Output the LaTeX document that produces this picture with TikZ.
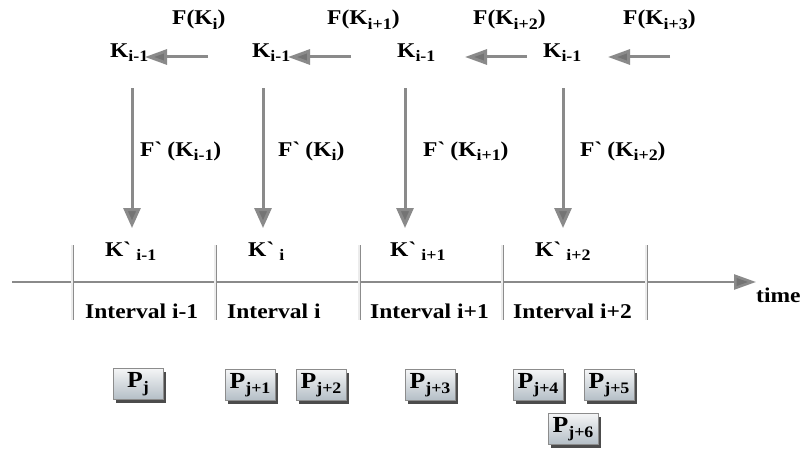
\documentclass[tikz,border=0pt]{standalone}
\usepackage{fontspec}
\setmainfont[FakeStretch=1.12]{Liberation Serif}
\usetikzlibrary{arrows.meta,shadows}
% lowered subscript in bold text
\newcommand{\lo}[1]{\raisebox{-0.42ex}{\fontsize{16}{16}\selectfont #1}}
\newcommand{\gr}{\textasciigrave}
\definecolor{arrowgray}{HTML}{8A8A8A}
\definecolor{headgray}{HTML}{747474}
\definecolor{boxtop}{HTML}{F4F5F6}
\definecolor{boxbot}{HTML}{B4BEC6}
\begin{document}
\begin{tikzpicture}[x=1pt,y=-1pt,
  lbl/.style={inner sep=0pt,anchor=base west,font=\fontsize{21}{24}\selectfont\bfseries},
  vflow/.style={draw=arrowgray,line width=3pt,
    -{Triangle[length=20pt,width=17pt,fill=headgray]}},
  hflow/.style={draw=arrowgray,line width=3pt,
    -{Triangle[length=22pt,width=15pt,fill=headgray]}},
  axis/.style={draw=arrowgray,line width=2.6pt,
    -{Triangle[length=22pt,width=15pt,fill=headgray]}},
  sep/.style={draw=gray!90,line width=0.9pt,double=gray!15,double distance=1.2pt},
  pbox/.style={draw=gray!90,line width=0.8pt,top color=boxtop,bottom color=boxbot,
    minimum height=31pt,minimum width=50pt,inner xsep=4pt,inner ysep=0pt,
    font=\fontsize{23}{24}\selectfont\bfseries,
    drop shadow={shadow xshift=3pt,shadow yshift=-3pt,fill=black!70,opacity=1}},
]
\useasboundingbox (0,0) rectangle (800,452);

% top row: keys and their transforms
\node[lbl] (ft1) at (172,25) {F(K\lo{i})};
\node[lbl] (ft2) at (327,25) {F(K\lo{i+1})};
\node[lbl] (ft3) at (473,25) {F(K\lo{i+2})};
\node[lbl] (ft4) at (623,25) {F(K\lo{i+3})};

\node[lbl] (k1) at (110,57) {K\lo{i-1}};
\node[lbl] (k2) at (252,57) {K\lo{i-1}};
\node[lbl] (k3) at (397,57) {K\lo{i-1}};
\node[lbl] (k4) at (543,57) {K\lo{i-1}};

\coordinate (h1s) at (208,57); \coordinate (h1e) at (145,57);
\coordinate (h2s) at (351,57); \coordinate (h2e) at (288,57);
\coordinate (h3s) at (527,57); \coordinate (h3e) at (465,57);
\coordinate (h4s) at (670,57); \coordinate (h4e) at (608,57);
\draw[hflow] (h1s) -- (h1e);
\draw[hflow] (h2s) -- (h2e);
\draw[hflow] (h3s) -- (h3e);
\draw[hflow] (h4s) -- (h4e);

% derived keys
\node[lbl] (fd1) at (140,156) {F\gr{} (K\lo{i-1})};
\node[lbl] (fd2) at (278,156) {F\gr{} (K\lo{i})};
\node[lbl] (fd3) at (423,156) {F\gr{} (K\lo{i+1})};
\node[lbl] (fd4) at (580,156) {F\gr{} (K\lo{i+2})};

\coordinate (v1s) at (132,88); \coordinate (v1e) at (132,228);
\coordinate (v2s) at (263,88); \coordinate (v2e) at (263,228);
\coordinate (v3s) at (405,88); \coordinate (v3e) at (405,228);
\coordinate (v4s) at (563,88); \coordinate (v4e) at (563,228);
\draw[vflow] (v1s) -- (v1e);
\draw[vflow] (v2s) -- (v2e);
\draw[vflow] (v3s) -- (v3e);
\draw[vflow] (v4s) -- (v4e);

\node[lbl] (kd1) at (105,256) {K\gr{} \lo{i-1}};
\node[lbl] (kd2) at (248,256) {K\gr{} \lo{i}};
\node[lbl] (kd3) at (390,256) {K\gr{} \lo{i+1}};
\node[lbl] (kd4) at (535,256) {K\gr{} \lo{i+2}};

% time axis with interval boundaries
\coordinate (t0) at (12,282);
\coordinate (t1) at (756,282);
\draw[axis] (t0) -- (t1);
\node[lbl] (time) at (756,302) {time};

\foreach \x [count=\n] in {72,215,359,502,646}{
  \coordinate (b\n t) at (\x,245);
  \coordinate (b\n b) at (\x,320);
  \draw[sep] (b\n t) -- (b\n b);
}

\node[lbl] (iv1) at (85,318) {Interval i-1};
\node[lbl] (iv2) at (227,318) {Interval i};
\node[lbl] (iv3) at (370,318) {Interval i+1};
\node[lbl] (iv4) at (513,318) {Interval i+2};

% packets
\node[pbox] (p0) at (138,384) {P\lo{j}};
\node[pbox] (p1) at (250,385) {P\lo{j+1}};
\node[pbox] (p2) at (321,385) {P\lo{j+2}};
\node[pbox] (p3) at (430,385) {P\lo{j+3}};
\node[pbox] (p4) at (538,385) {P\lo{j+4}};
\node[pbox] (p5) at (609,385) {P\lo{j+5}};
\node[pbox] (p6) at (573,429) {P\lo{j+6}};
\end{tikzpicture}
\end{document}
